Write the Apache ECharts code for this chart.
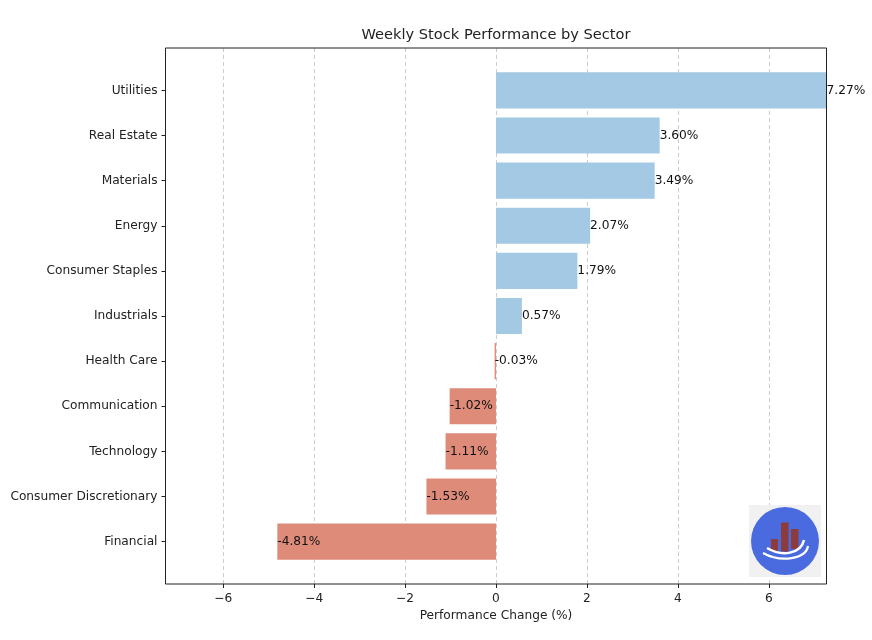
<!DOCTYPE html>
<html>
<head>
<meta charset="utf-8">
<script src="https://cdn.jsdelivr.net/npm/echarts@6/dist/echarts.min.js"></script>
<style>html,body{margin:0;padding:0;background:#fff;}#c{width:872px;height:640px;}</style>
</head>
<body>
<div id="c"></div>
<script>
const categories = ['Utilities','Real Estate','Materials','Energy','Consumer Staples','Industrials','Health Care','Communication','Technology','Consumer Discretionary','Financial'];
const values = [7.27, 3.60, 3.49, 2.07, 1.79, 0.57, -0.03, -1.02, -1.11, -1.53, -4.81];
const xTicks = [-6, -4, -2, 0, 2, 4, 6];
const xLimit = 7.27;
const posColor = '#a3c9e5';
const negColor = '#de8b7a';
const font = 'DejaVu Sans';
const fs = 12.2;

const chart = echarts.init(document.getElementById('c'), null, {renderer: 'canvas'});
const L = 165.5, Rx = 826.5, T = 48, Bx = 584;
const R = 872 - Rx, B = 640 - Bx;
const n = categories.length;
const span = (n - 1 + 0.8) * 1.1;
const unit = (Bx - T) / span;
const catTop = T + (0.05 * (n - 1 + 0.8) - 0.1) * unit;
const catH = n * unit;

chart.setOption({
  backgroundColor: '#fff',
  animation: false,
  grid: [
    {left: L, right: R, top: T, bottom: B, show: true, borderColor: '#222', borderWidth: 1, backgroundColor: 'transparent', z: 5},
    {left: L, right: R, top: catTop, height: catH}
  ],
  xAxis: [
    {
      gridIndex: 0, type: 'value', min: -xLimit, max: xLimit,
      axisLine: {show: false},
      axisTick: {show: true, length: 4, customValues: xTicks, lineStyle: {color: '#222'}},
      axisLabel: {customValues: xTicks, fontFamily: font, fontSize: fs, color: '#222', margin: 9,
        formatter: v => String(v).replace('-', '\u2212')},
      splitLine: {show: true, lineStyle: {color: '#cccccc', type: [4, 3], width: 1}},
      name: 'Performance Change (%)', nameLocation: 'middle', nameGap: 26,
      nameTextStyle: {fontFamily: font, fontSize: fs, color: '#222'}
    },
    {
      gridIndex: 1, type: 'value', min: -xLimit, max: xLimit, show: false
    }
  ],
  yAxis: [
    {gridIndex: 0, type: 'value', min: 0, max: 1, show: false},
    {
      gridIndex: 1, type: 'category', data: categories, inverse: true,
      axisLine: {show: false, onZero: false},
      axisTick: {show: true, alignWithLabel: true, length: 4, lineStyle: {color: '#222'}},
      axisLabel: {fontFamily: font, fontSize: fs, color: '#222', margin: 8},
      splitLine: {show: false}
    }
  ],
  series: [
    {
      type: 'bar', xAxisIndex: 1, yAxisIndex: 1,
      barWidth: '80%',
      data: values.map(v => ({value: v, itemStyle: {color: v >= 0 ? posColor : negColor}})),
      z: 2
    },
    {
      type: 'scatter', xAxisIndex: 1, yAxisIndex: 1,
      symbolSize: 0,
      itemStyle: {opacity: 1},
      data: values.map((v, i) => [v, categories[i]]),
      label: {show: true, position: 'right', distance: 0, fontFamily: font, fontSize: fs, color: '#111',
        formatter: p => p.value[0].toFixed(2) + '%'},
      z: 6
    }
  ],
  graphic: [
    {type: 'text', x: (L + Rx) / 2, y: 28, style: {text: 'Weekly Stock Performance by Sector', fontFamily: font, fontSize: 14.6, fill: '#222', textAlign: 'center', textVerticalAlign: 'top'}, z: 20},
    {type: 'rect', shape: {x: 749, y: 505, width: 72, height: 72}, style: {fill: '#f1f1f1'}, z: 10},
    {type: 'circle', shape: {cx: 785, cy: 541, r: 34}, style: {fill: '#4a6ae0'}, z: 11},
    {type: 'rect', shape: {x: 771, y: 539, width: 7, height: 13}, style: {fill: '#8e3b3b'}, z: 12},
    {type: 'rect', shape: {x: 781, y: 522.5, width: 7.5, height: 29}, style: {fill: '#8e3b3b'}, z: 12},
    {type: 'rect', shape: {x: 791, y: 529, width: 7.5, height: 20}, style: {fill: '#8e3b3b'}, z: 12},
    {type: 'bezierCurve', shape: {x1: 767, y1: 548, cpx1: 782, cpy1: 557, cpx2: 801, cpy2: 554, x2: 804, y2: 540}, style: {stroke: '#fff', lineWidth: 2.5, fill: null}, z: 13},
    {type: 'bezierCurve', shape: {x1: 763, y1: 553, cpx1: 781, cpy1: 563, cpx2: 806, cpy2: 559, x2: 808, y2: 546}, style: {stroke: '#fff', lineWidth: 2.2, fill: null}, z: 13}
  ]
});
</script>
</body>
</html>
